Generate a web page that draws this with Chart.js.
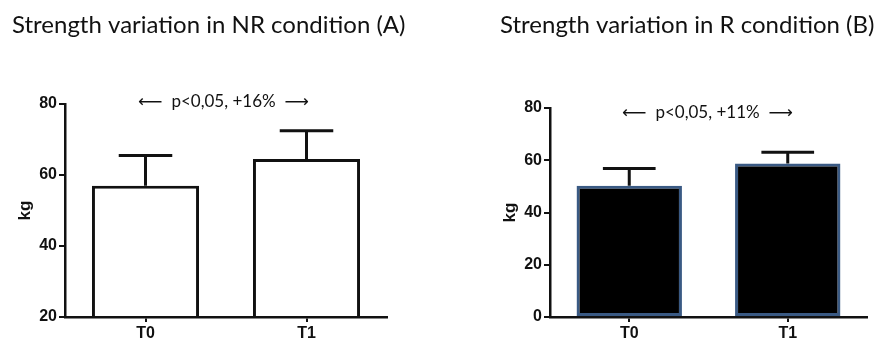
<!DOCTYPE html>
<html><head><meta charset="utf-8">
<script src="https://cdn.jsdelivr.net/npm/chart.js@4.4.1/dist/chart.umd.min.js"></script>
<style>
html,body{margin:0;padding:0;background:#fff;}
#wrap{position:relative;width:882px;height:338px;overflow:hidden;background:#fff;}
.panel{position:absolute;top:0;width:441px;height:338px;}
</style></head><body>
<div id="wrap">
<div class="panel" style="left:0"><canvas id="cA"></canvas></div>
<div class="panel" style="left:441px"><canvas id="cB"></canvas></div>
</div>
<script>
// ---- data ----
const categories = ['T0', 'T1'];
const nrMeans = [57.0, 64.5];
const nrSD = [8.5, 8.0];
const rMeans = [50.2, 58.8];
const rSD = [6.6, 4.3];
const nrYTicks = [20, 40, 60, 80];
const rYTicks = [0, 20, 40, 60, 80];
const titleA = 'Strength variation in NR condition (A)';
const titleB = 'Strength variation in R condition (B)';
const noteA = 'p<0,05, +16%';
const noteB = 'p<0,05, +11%';
const arrowLeft = '\u27F5';
const arrowRight = '\u27F6';
const yLabel = 'kg';

Chart.defaults.font.family = "'Liberation Sans Narrow', 'Liberation Sans', Arial, sans-serif";

const errorBars = {
  id: 'errorBars',
  afterDatasetsDraw(chart, args, o) {
    const meta = chart.getDatasetMeta(0);
    const ys = chart.scales.y;
    const ctx = chart.ctx;
    const vals = chart.data.datasets[0].data;
    ctx.save();
    ctx.strokeStyle = o.color; ctx.lineWidth = o.width; ctx.lineCap = 'butt';
    meta.data.forEach((bar, i) => {
      const top = ys.getPixelForValue(vals[i] + o.errors[i]);
      const half = bar.width * o.capRatio / 2;
      ctx.beginPath();
      ctx.moveTo(bar.x, bar.y); ctx.lineTo(bar.x, top);
      ctx.moveTo(bar.x - half, top); ctx.lineTo(bar.x + half, top);
      ctx.stroke();
    });
    ctx.restore();
  }
};

const panelText = {
  id: 'panelText',
  afterDraw(chart, args, o) {
    const ctx = chart.ctx, a = chart.chartArea;
    ctx.save();
    ctx.fillStyle = '#111';
    ctx.font = o.titleFont;
    ctx.textBaseline = 'alphabetic'; ctx.textAlign = 'left';
    ctx.fillText(o.title, o.titleX, o.titleY);
    ctx.font = o.noteFont;
    ctx.textBaseline = 'middle';
    const cx = (a.left + a.right) / 2 + o.noteDx;
    const cy = a.top + o.noteDy;
    const w = ctx.measureText(o.note).width;
    ctx.textAlign = 'center'; ctx.fillText(o.note, cx, cy);
    ctx.font = o.arrowFont;
    ctx.textAlign = 'right'; ctx.fillText(arrowLeft, cx - w / 2 - o.gap, cy + 1);
    ctx.textAlign = 'left'; ctx.fillText(arrowRight, cx + w / 2 + o.gap, cy + 1);
    ctx.restore();
  }
};

function makeChart(id, cfg) {
  const tickFont = { size: 16, weight: 'bold' };
  return new Chart(document.getElementById(id), {
    type: 'bar',
    data: {
      labels: categories,
      datasets: [{
        data: cfg.values,
        backgroundColor: cfg.fill,
        borderColor: cfg.border,
        borderWidth: 3,
        borderSkipped: cfg.skip,
        categoryPercentage: 1,
        barPercentage: 0.665
      }]
    },
    options: {
      responsive: true,
      maintainAspectRatio: false,
      animation: false,
      devicePixelRatio: 1,
      layout: { padding: cfg.padding },
      plugins: {
        legend: { display: false },
        tooltip: { enabled: false },
        title: { display: false },
        errorBars: { errors: cfg.errors, color: '#111', width: 3, capRatio: 0.5 },
        panelText: {
          title: cfg.title, titleX: cfg.titleX, titleY: 33,
          titleFont: "24px Lato, 'Noto Sans', sans-serif",
          note: cfg.note, noteDx: cfg.noteDx, noteDy: cfg.noteDy,
          noteFont: "17px Lato, 'Noto Sans', sans-serif",
          arrowFont: "17px 'DejaVu Sans', sans-serif",
          gap: 9
        }
      },
      scales: {
        x: {
          afterFit: s => { s.height = 21; },
          grid: { offset: false, drawOnChartArea: false, drawTicks: true, tickLength: 5, color: '#111', lineWidth: 2 },
          border: { display: true, color: '#111', width: 2.5, z: 1 },
          ticks: { padding: 2, color: '#111', font: tickFont }
        },
        y: {
          min: cfg.min, max: 80,
          afterBuildTicks: s => { s.ticks = cfg.yTicks.map(v => ({ value: v })); },
          afterFit: s => { s.width = 65; },
          grid: { drawOnChartArea: false, drawTicks: true, tickLength: 6, color: '#111', lineWidth: 2 },
          border: { display: true, color: '#111', width: 2.5, z: 1 },
          ticks: { padding: 2, color: '#111', font: tickFont },
          title: { display: true, text: yLabel, color: '#111', padding: { top: 17, bottom: 0 },
                   font: { size: 17, weight: 'bold', lineHeight: 1 } }
        }
      }
    },
    plugins: [errorBars, panelText]
  });
}

makeChart('cA', {
  values: nrMeans, errors: nrSD, yTicks: nrYTicks, min: 20,
  fill: '#ffffff', border: '#111111', skip: 'start',
  padding: { left: 0, right: 54, top: 104, bottom: 0 },
  title: titleA, titleX: 12, note: noteA, noteDx: -2.5, noteDy: -2
});
makeChart('cB', {
  values: rMeans, errors: rSD, yTicks: rYTicks, min: 0,
  fill: '#000000', border: '#3a5a84', skip: false,
  padding: { left: 44, right: 15, top: 108, bottom: 0 },
  title: titleB, titleX: 59, note: noteB, noteDx: -1, noteDy: 5
});
</script>
</body></html>
